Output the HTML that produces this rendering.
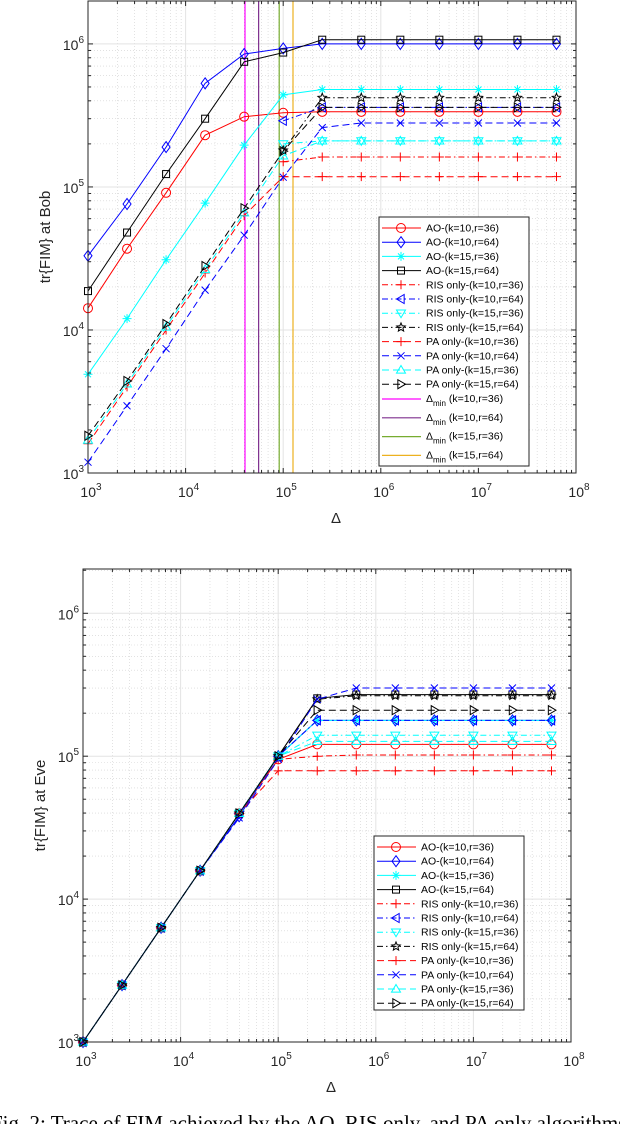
<!DOCTYPE html>
<html><head><meta charset="utf-8">
<style>
html,body{margin:0;padding:0;background:#fff;width:620px;height:1124px;overflow:hidden}
svg{position:absolute;left:0;top:0}
text{font-family:"Liberation Sans",sans-serif}
</style></head>
<body>
<svg id="chart" width="620" height="1124">
<text x="-9" y="1130" font-size="21" style="font-family:'Liberation Serif',serif">Fig. 2: Trace of FIM achieved by the AO, RIS only, and PA only algorithms</text>
</svg>
<script>
// shared x values (Δ) at markers: 10^(3+0.4i)
const xVals=[1e3,2.512e3,6.31e3,1.585e4,3.981e4,1e5,2.512e5,6.31e5,1.585e6,3.981e6,1e7,2.512e7,6.31e7];
const seriesLabels=["AO-(k=10,r=36)","AO-(k=10,r=64)","AO-(k=15,r=36)","AO-(k=15,r=64)","RIS only-(k=10,r=36)","RIS only-(k=10,r=64)","RIS only-(k=15,r=36)","RIS only-(k=15,r=64)","PA only-(k=10,r=36)","PA only-(k=10,r=64)","PA only-(k=15,r=36)","PA only-(k=15,r=64)"];
// Bob plot
const bobAO1036=[1.42e4,3.7e4,9.1e4,2.3e5,3.1e5,3.3e5,3.35e5,3.35e5,3.35e5,3.35e5,3.35e5,3.35e5,3.35e5];
const bobAO1064=[3.3e4,7.6e4,1.9e5,5.3e5,8.5e5,9.3e5,1.0e6,1.0e6,1.0e6,1.0e6,1.0e6,1.0e6,1.0e6];
const bobAO1536=[4.9e3,1.2e4,3.1e4,7.7e4,1.96e5,4.4e5,4.8e5,4.8e5,4.8e5,4.8e5,4.8e5,4.8e5,4.8e5];
const bobAO1564=[1.87e4,4.8e4,1.23e5,3.0e5,7.5e5,8.7e5,1.07e6,1.07e6,1.07e6,1.07e6,1.07e6,1.07e6,1.07e6];
const bobRIS1036=[null,null,null,null,null,1.5e5,1.62e5,1.62e5,1.62e5,1.62e5,1.62e5,1.62e5,1.62e5];
const bobRIS1064=[null,null,null,null,null,2.9e5,3.6e5,3.6e5,3.6e5,3.6e5,3.6e5,3.6e5,3.6e5];
const bobRIS1536=[null,null,null,null,null,2.0e5,2.1e5,2.1e5,2.1e5,2.1e5,2.1e5,2.1e5,2.1e5];
const bobRIS1564=[null,null,null,null,null,1.8e5,4.2e5,4.2e5,4.2e5,4.2e5,4.2e5,4.2e5,4.2e5];
const bobPA1036=[1.6e3,4e3,1e4,2.5e4,6.3e4,1.18e5,1.18e5,1.18e5,1.18e5,1.18e5,1.18e5,1.18e5,1.18e5];
const bobPA1064=[1.19e3,2.95e3,7.4e3,1.9e4,4.6e4,1.17e5,2.6e5,2.8e5,2.8e5,2.8e5,2.8e5,2.8e5,2.8e5];
const bobPA1536=[1.7e3,4.2e3,1.05e4,2.65e4,6.6e4,1.65e5,2.1e5,2.1e5,2.1e5,2.1e5,2.1e5,2.1e5,2.1e5];
const bobPA1564=[1.82e3,4.4e3,1.1e4,2.8e4,7.1e4,1.78e5,3.6e5,3.6e5,3.6e5,3.6e5,3.6e5,3.6e5,3.6e5];
const deltaMin=[4.06e4,5.6e4,9.1e4,1.26e5];
const deltaMinLabels=["(k=10,r=36)","(k=10,r=64)","(k=15,r=36)","(k=15,r=64)"];
// Eve plot
const eveAO1036=[1e3,2.5e3,6.3e3,1.58e4,3.98e4,9.5e4,1.21e5,1.21e5,1.21e5,1.21e5,1.21e5,1.21e5,1.21e5];
const eveAO1064=[1e3,2.5e3,6.3e3,1.58e4,3.8e4,1e5,1.78e5,1.78e5,1.78e5,1.78e5,1.78e5,1.78e5,1.78e5];
const eveAO1536=[1e3,2.5e3,6.3e3,1.58e4,3.98e4,1e5,1.78e5,1.78e5,1.78e5,1.78e5,1.78e5,1.78e5,1.78e5];
const eveAO1564=[1e3,2.5e3,6.3e3,1.58e4,3.98e4,1e5,2.54e5,2.7e5,2.7e5,2.7e5,2.7e5,2.7e5,2.7e5];
const eveRIS1036=[1e3,2.5e3,6.3e3,1.58e4,3.98e4,9.5e4,1.0e5,1.02e5,1.02e5,1.02e5,1.02e5,1.02e5,1.02e5];
const eveRIS1064=[1e3,2.5e3,6.3e3,1.58e4,3.98e4,1e5,1.78e5,1.78e5,1.78e5,1.78e5,1.78e5,1.78e5,1.78e5];
const eveRIS1536=[1e3,2.5e3,6.3e3,1.58e4,3.98e4,1e5,1.4e5,1.4e5,1.4e5,1.4e5,1.4e5,1.4e5,1.4e5];
const eveRIS1564=[1e3,2.5e3,6.3e3,1.58e4,3.98e4,1e5,2.5e5,2.65e5,2.65e5,2.65e5,2.65e5,2.65e5,2.65e5];
const evePA1036=[1e3,2.5e3,6.3e3,1.58e4,3.98e4,7.9e4,7.9e4,7.9e4,7.9e4,7.9e4,7.9e4,7.9e4,7.9e4];
const evePA1064=[1e3,2.5e3,6.3e3,1.58e4,3.7e4,9.5e4,2.5e5,3.0e5,3.0e5,3.0e5,3.0e5,3.0e5,3.0e5];
const evePA1536=[1e3,2.5e3,6.3e3,1.58e4,3.98e4,1e5,1.27e5,1.27e5,1.27e5,1.27e5,1.27e5,1.27e5,1.27e5];
const evePA1564=[1e3,2.5e3,6.3e3,1.58e4,3.98e4,1e5,2.1e5,2.1e5,2.1e5,2.1e5,2.1e5,2.1e5,2.1e5];
const xTickExps=[3,4,5,6,7,8];
const yTickExps=[3,4,5,6];

const NS="http://www.w3.org/2000/svg";
const svg=document.getElementById('chart');
function mk(tag,attrs,parent){const e=document.createElementNS(NS,tag);for(const k in attrs)e.setAttribute(k,attrs[k]);(parent||svg).appendChild(e);return e;}
const styles=[
 {c:"#ff0000",d:"",m:"o"},{c:"#0000ff",d:"",m:"d"},{c:"#00ffff",d:"",m:"*"},{c:"#000000",d:"",m:"s"},
 {c:"#ff0000",d:"6,3,1.5,3",m:"+"},{c:"#0000ff",d:"6,3,1.5,3",m:"<"},{c:"#00ffff",d:"6,3,1.5,3",m:"v"},{c:"#000000",d:"6,3,1.5,3",m:"p"},
 {c:"#ff0000",d:"7,4",m:"+"},{c:"#0000ff",d:"7,4",m:"x"},{c:"#00ffff",d:"7,4",m:"^"},{c:"#000000",d:"7,4",m:">"}];
const dmColors=["#ff00ff","#7e2f8e","#77ac30","#edb120"];

function marker(g,type,x,y,c){
 const r=4.5;let e;
 const a={fill:"none",stroke:c,"stroke-width":1};
 if(type==="o"){e=mk("circle",Object.assign({cx:x,cy:y,r:r},a),g);}
 else if(type==="s"){e=mk("rect",Object.assign({x:x-3.5,y:y-3.5,width:7,height:7},a),g);}
 else{
  let d;
  if(type==="d")d=`M${x},${y-r-1}L${x+r-0.5},${y}L${x},${y+r+1}L${x-r+0.5},${y}Z`;
  else if(type==="+")d=`M${x-r},${y}H${x+r}M${x},${y-r}V${y+r}`;
  else if(type==="x")d=`M${x-3.5},${y-3.5}L${x+3.5},${y+3.5}M${x-3.5},${y+3.5}L${x+3.5},${y-3.5}`;
  else if(type==="*")d=`M${x-r},${y}H${x+r}M${x},${y-r}V${y+r}M${x-3},${y-3}L${x+3},${y+3}M${x-3},${y+3}L${x+3},${y-3}`;
  else if(type==="^")d=`M${x},${y-r}L${x+r},${y+r*0.7}L${x-r},${y+r*0.7}Z`;
  else if(type==="v")d=`M${x},${y+r}L${x+r},${y-r*0.7}L${x-r},${y-r*0.7}Z`;
  else if(type==="<")d=`M${x-r},${y}L${x+r*0.7},${y-r}L${x+r*0.7},${y+r}Z`;
  else if(type===">")d=`M${x+r},${y}L${x-r*0.7},${y-r}L${x-r*0.7},${y+r}Z`;
  else if(type==="p"){let p=[];for(let k=0;k<10;k++){const ang=-Math.PI/2+k*Math.PI/5;const rr=k%2?r*0.45:r;p.push((x+rr*Math.cos(ang)).toFixed(2)+","+(y+rr*Math.sin(ang)).toFixed(2));}d="M"+p.join("L")+"Z";}
  e=mk("path",Object.assign({d:d},a),g);
 }
 
 
}

function drawPlot(cfg){
 const {L,R,T,B,ymaxExp,name,series,ylabel,legend}=cfg;
 const g=mk("g",{});
 
 
 const xs=v=>L+(Math.log10(v)-3)/5*(R-L);
 const ys=v=>B-(Math.log10(v)-3)/(ymaxExp-3)*(B-T);
 const grid=mk("g",{},g);
 
 
 for(let e=3;e<8;e++)for(let k=1;k<10;k++){const x=xs(k*Math.pow(10,e));
  if(k===1){if(e>3)mk("line",{x1:x,x2:x,y1:T,y2:B,stroke:"#e3e3e3","stroke-width":1},grid);}
  else mk("line",{x1:x,x2:x,y1:T,y2:B,stroke:"#d0d0d0","stroke-width":0.6,"stroke-dasharray":"1,2"},grid);}
 for(let e=3;e<7;e++)for(let k=1;k<10;k++){const v=k*Math.pow(10,e);if(Math.log10(v)>ymaxExp)continue;const y=ys(v);
  if(k===1){if(e>3)mk("line",{x1:L,x2:R,y1:y,y2:y,stroke:"#e3e3e3","stroke-width":1},grid);}
  else mk("line",{x1:L,x2:R,y1:y,y2:y,stroke:"#d0d0d0","stroke-width":0.6,"stroke-dasharray":"1,2"},grid);}
 if(cfg.dmin){deltaMin.forEach((v,i)=>{const l=mk("line",{x1:xs(v),x2:xs(v),y1:T,y2:B,stroke:dmColors[i],"stroke-width":1.2},g);
  
  });}
 series.forEach((arr,si)=>{const st=styles[si];
  const sg=mk("g",{},g);
  
  
  const pts=[];arr.forEach((v,i)=>{if(v!=null)pts.push(xs(xVals[i]).toFixed(1)+","+ys(v).toFixed(1));});
  mk("polyline",{points:pts.join(" "),fill:"none",stroke:st.c,"stroke-width":1,"stroke-dasharray":st.d},sg);
  arr.forEach((v,i)=>{if(v!=null)marker(sg,st.m,xs(xVals[i]),ys(v),st.c);});
 });
 const ax=mk("g",{},g);
 
 
 mk("rect",{x:L,y:T,width:R-L,height:B-T,fill:"none",stroke:"#262626","stroke-width":1},ax);
 for(let e=3;e<8;e++)for(let k=1;k<10;k++){const x=xs(k*Math.pow(10,e));const len=k===1?5:3;
  mk("line",{x1:x,x2:x,y1:B,y2:B-len,stroke:"#262626"},ax);mk("line",{x1:x,x2:x,y1:T,y2:T+len,stroke:"#262626"},ax);}
 for(let e=3;e<7;e++)for(let k=1;k<10;k++){const v=k*Math.pow(10,e);if(Math.log10(v)>ymaxExp)continue;const y=ys(v);const len=k===1?5:3;
  mk("line",{x1:L,x2:L+len,y1:y,y2:y,stroke:"#262626"},ax);mk("line",{x1:R,x2:R-len,y1:y,y2:y,stroke:"#262626"},ax);}
 xTickExps.forEach(e=>{const t=mk("text",{x:xs(Math.pow(10,e))+3,y:B+24,"text-anchor":"middle","font-size":14,fill:"#262626"},ax);
  
  
  t.innerHTML=`10<tspan dy="-7" font-size="10">${e}</tspan>`;});
 yTickExps.forEach(e=>{const t=mk("text",{x:L-4,y:ys(Math.pow(10,e))+6,"text-anchor":"end","font-size":14,fill:"#262626"},ax);
  
  
  t.innerHTML=`10<tspan dy="-7" font-size="10">${e}</tspan>`;});
 const xl=mk("text",{x:(L+R)/2+4,y:B+50,"text-anchor":"middle","font-size":15,fill:"#262626"},g);
 
 
 xl.textContent="Δ";
 const yl=mk("text",{x:0,y:0,"text-anchor":"middle","font-size":15,fill:"#262626",transform:`translate(${cfg.ylx},${(T+B)/2}) rotate(-90)`},g);
 
 
 yl.textContent=ylabel;
 const lg=mk("g",{},g);
 
 
 mk("rect",{x:legend.x,y:legend.y,width:legend.w,height:legend.h,fill:"#fff",stroke:"#262626","stroke-width":1},lg);
 seriesLabels.forEach((lab,i)=>{const st=styles[i];const y=legend.y+11+i*14.2;
  const e=mk("g",{},lg);
  
  
  mk("line",{x1:legend.x+3,x2:legend.x+42,y1:y,y2:y,stroke:st.c,"stroke-width":1,"stroke-dasharray":st.d},e);
  marker(e,st.m,legend.x+22,y,st.c);
  const t=mk("text",{x:legend.x+47,y:y+3.5,"font-size":10.5,fill:"#000"},e);t.textContent=lab;});
 if(cfg.dmin){deltaMinLabels.forEach((lab,i)=>{const y=legend.y+182+i*18.8;
  const e=mk("g",{},lg);
  
  
  mk("line",{x1:legend.x+3,x2:legend.x+42,y1:y,y2:y,stroke:dmColors[i],"stroke-width":1.2},e);
  const t=mk("text",{x:legend.x+47,y:y+3,"font-size":10.5,fill:"#000"},e);
  t.innerHTML=`Δ<tspan dy="4" font-size="8">min</tspan><tspan dy="-4"> ${lab}</tspan>`;});}
}
drawPlot({name:"bob-plot",L:88,R:576,T:1,B:473,ymaxExp:6.3,ylx:50,ylabel:"tr{FIM}  at Bob",dmin:true,
 series:[bobAO1036,bobAO1064,bobAO1536,bobAO1564,bobRIS1036,bobRIS1064,bobRIS1536,bobRIS1564,bobPA1036,bobPA1064,bobPA1536,bobPA1564],
 legend:{x:379,y:217,w:150,h:249}});
drawPlot({name:"eve-plot",L:83,R:571,T:569,B:1042,ymaxExp:6.31,ylx:45,ylabel:"tr{FIM}  at Eve",dmin:false,
 series:[eveAO1036,eveAO1064,eveAO1536,eveAO1564,eveRIS1036,eveRIS1064,eveRIS1536,eveRIS1564,evePA1036,evePA1064,evePA1536,evePA1564],
 legend:{x:374,y:836,w:150,h:174}});
</script>
</body></html>
